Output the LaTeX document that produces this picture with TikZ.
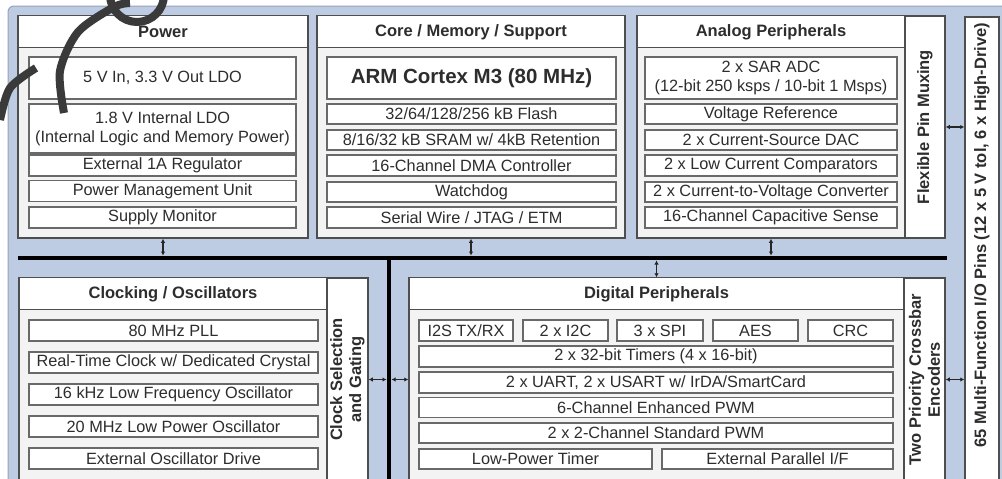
\documentclass[tikz,border=0pt]{standalone}
\usepackage{fontspec}
\setmainfont{Liberation Sans}
\usetikzlibrary{arrows.meta}

\definecolor{fondo}{RGB}{189,204,227}
\definecolor{borde}{RGB}{78,78,78}
\definecolor{zona}{RGB}{243,243,243}
\definecolor{texto}{RGB}{45,45,45}
\definecolor{marca}{RGB}{58,58,58}

\begin{document}
\begin{tikzpicture}[x=1pt, y=-1pt,
  bloque/.style={draw=borde, line width=1.5pt, fill=zona, inner sep=0pt},
  columna/.style={draw=borde, line width=1.5pt, fill=white, inner sep=0pt},
  titulo/.style={draw=borde, line width=1.2pt, fill=white, anchor=north, minimum height=32pt, inner sep=0pt, text=texto, font=\fontsize{16.5}{19}\selectfont\bfseries},
  caja/.style={draw=borde!85, line width=1.3pt, fill=white, minimum height=21pt, inner sep=0pt, text=texto, font=\fontsize{16.3}{19}\selectfont, align=center},
  vtexto/.style={rotate=90, inner sep=0pt, text=texto, font=\fontsize{16.5}{19}\selectfont\bfseries, align=center},
  flecha/.style={{Latex[length=4pt,width=4.5pt]}-{Latex[length=4pt,width=4.5pt]}, line width=1.1pt, draw=black!85},
  bus/.style={line width=4pt, draw=black},
  marcaagua/.style={draw=marca, line width=8pt}]

  % Marco y fondo
  \useasboundingbox (0,0) rectangle (1002,479);
  \fill[white] (0,0) rectangle (1002,479);
  \draw[fill=fondo, draw=fondo!80!black, line width=1pt, rounded corners=6pt] (8,6) rectangle (1012,492);

  % Bloque Power
  \node[bloque, minimum width=290pt, minimum height=222pt] (pwr) at (163,127) {};
  \node[titulo, minimum width=290pt] (pwrtit) at (pwr.north) {Power};
  \node[caja, minimum width=267pt, minimum height=42pt] (ldo) at (162.5,78) {5 V In, 3.3 V Out LDO};
  \node[caja, minimum width=267pt, minimum height=49pt] (ldoint) at (162.5,128.5) {1.8 V Internal LDO\\(Internal Logic and Memory Power)};
  \node[caja, minimum width=267pt] (reg) at (162.5,165.5) {External 1A Regulator};
  \node[caja, minimum width=267pt] (pmu) at (162.5,191) {Power Management Unit};
  \node[caja, minimum width=267pt] (supmon) at (162.5,217.5) {Supply Monitor};

  % Bloque Core / Memory / Support
  \node[bloque, minimum width=308pt, minimum height=222pt] (core) at (471,127) {};
  \node[titulo, minimum width=308pt] (coretit) at (core.north) {Core / Memory / Support};
  \node[caja, minimum width=289pt, minimum height=42pt, font=\fontsize{20.5}{22}\selectfont\bfseries] (arm) at (471.5,78) {ARM Cortex M3 (80 MHz)};
  \node[caja, minimum width=289pt, minimum height=20pt] (flash) at (471.5,114) {32/64/128/256 kB Flash};
  \node[caja, minimum width=289pt, minimum height=20pt] (sram) at (471.5,140) {8/16/32 kB SRAM w/ 4kB Retention};
  \node[caja, minimum width=289pt] (dma) at (471.5,165.5) {16-Channel DMA Controller};
  \node[caja, minimum width=289pt, minimum height=20pt] (wdog) at (471.5,192) {Watchdog};
  \node[caja, minimum width=289pt] (swd) at (471.5,217.5) {Serial Wire / JTAG / ETM};

  % Bloque Analog Peripherals
  \node[bloque, minimum width=268pt, minimum height=222pt] (ana) at (771,127) {};
  \node[titulo, minimum width=268pt] (anatit) at (ana.north) {Analog Peripherals};
  \node[caja, minimum width=252pt, minimum height=42pt] (adc) at (771,78) {2 x SAR ADC\\(12-bit 250 ksps / 10-bit 1 Msps)};
  \node[caja, minimum width=252pt, minimum height=20pt] (vref) at (771,114) {Voltage Reference};
  \node[caja, minimum width=252pt, minimum height=20pt] (dac) at (771,140) {2 x Current-Source DAC};
  \node[caja, minimum width=252pt] (comp) at (771,165.5) {2 x Low Current Comparators};
  \node[caja, minimum width=252pt, minimum height=20pt] (ivconv) at (771,192) {2 x Current-to-Voltage Converter};
  \node[caja, minimum width=252pt] (capsense) at (771,217.5) {16-Channel Capacitive Sense};
  \node[columna, minimum width=40pt, minimum height=222pt] (mux) at (925,127) {};
  \node[vtexto] (muxtxt) at (mux) {Flexible Pin Muxing};

  % Pines de E/S
  \node[columna, minimum width=34pt, minimum height=464pt] (io) at (982,249) {};
  \node[vtexto] (iotxt) at (982,235) {65 Multi-Function I/O Pins (12 x 5 V tol, 6 x High-Drive)};

  % Bloque Clocking / Oscillators
  \node[bloque, minimum width=308pt, minimum height=203pt] (clk) at (173,379.5) {};
  \node[titulo, minimum width=308pt] (clktit) at (clk.north) {Clocking / Oscillators};
  \node[caja, minimum width=289pt] (pll) at (173.5,330.5) {80 MHz PLL};
  \node[caja, minimum width=289pt] (rtc) at (173.5,362.5) {Real-Time Clock w/ Dedicated Crystal};
  \node[caja, minimum width=289pt] (lfo) at (173.5,394.5) {16 kHz Low Frequency Oscillator};
  \node[caja, minimum width=289pt] (lpo) at (173.5,426.5) {20 MHz Low Power Oscillator};
  \node[caja, minimum width=289pt] (extosc) at (173.5,458.5) {External Oscillator Drive};
  \node[columna, minimum width=41pt, minimum height=203pt] (clksel) at (347.5,379.5) {};
  \node[vtexto] (clkseltxt) at (clksel) {Clock Selection\\and Gating};

  % Bloque Digital Peripherals
  \node[bloque, minimum width=495pt, minimum height=203pt] (dig) at (656.5,379.5) {};
  \node[titulo, minimum width=495pt] (digtit) at (dig.north) {Digital Peripherals};
  \node[caja, minimum width=94pt] (i2s) at (466,330.5) {I2S TX/RX};
  \node[caja, minimum width=85pt] (i2c) at (565.5,330.5) {2 x I2C};
  \node[caja, minimum width=86pt] (spi) at (660,330.5) {3 x SPI};
  \node[caja, minimum width=85pt] (aes) at (755.5,330.5) {AES};
  \node[caja, minimum width=85pt] (crc) at (850.5,330.5) {CRC};
  \node[caja, minimum width=474pt] (timers) at (656,356.5) {2 x 32-bit Timers (4 x 16-bit)};
  \node[caja, minimum width=474pt] (uart) at (656,382.5) {2 x UART, 2 x USART w/ IrDA/SmartCard};
  \node[caja, minimum width=474pt, minimum height=20pt] (pwm6) at (656,407.5) {6-Channel Enhanced PWM};
  \node[caja, minimum width=474pt, minimum height=20pt] (pwm2) at (656,433) {2 x 2-Channel Standard PWM};
  \node[caja, minimum width=233pt, minimum height=20pt] (lptimer) at (535.5,459) {Low-Power Timer};
  \node[caja, minimum width=231pt, minimum height=20pt] (epi) at (777.5,459) {External Parallel I/F};
  \node[columna, minimum width=41pt, minimum height=203pt] (xbar) at (924.5,379.5) {};
  \node[vtexto] (xbartxt) at (xbar) {Two Priority Crossbar\\Encoders};

  % Buses
  \coordinate (busL) at (18,258);
  \coordinate (busR) at (947,258);
  \coordinate (busT) at (389,258);
  \coordinate (busB) at (389,485);

  % Flechas hacia los buses
  \draw[flecha, shorten >=2.5pt] (pwr.south) -- (pwr.south |- busL);
  \draw[flecha, shorten >=2.5pt] (core.south) -- (core.south |- busL);
  \draw[flecha, shorten >=2.5pt] (ana.south) -- (ana.south |- busL);
  \draw[flecha, shorten >=2.5pt] (dig.north) -- (dig.north |- busL);
  \draw[flecha, shorten >=2.5pt] (clksel.east) -- (clksel.east -| busT);
  \draw[flecha, shorten >=2.5pt] (dig.west) -- (dig.west -| busT);
  \draw[flecha] (mux.east) -- (mux.east -| io.west);
  \draw[flecha] (xbar.east) -- (xbar.east -| io.west);

  \draw[bus] (busL) -- (busR);
  \draw[bus] (busT) -- (busB);

  % Marca de agua
  \draw[marcaagua] (137,-5) circle[radius=27];
  \draw[marcaagua] plot[smooth] coordinates {(64,113) (60,71) (78,32) (114,7) (130,3)};
  \draw[marcaagua] plot[smooth] coordinates {(0,120) (10,88) (36,68)};

\end{tikzpicture}
\end{document}
